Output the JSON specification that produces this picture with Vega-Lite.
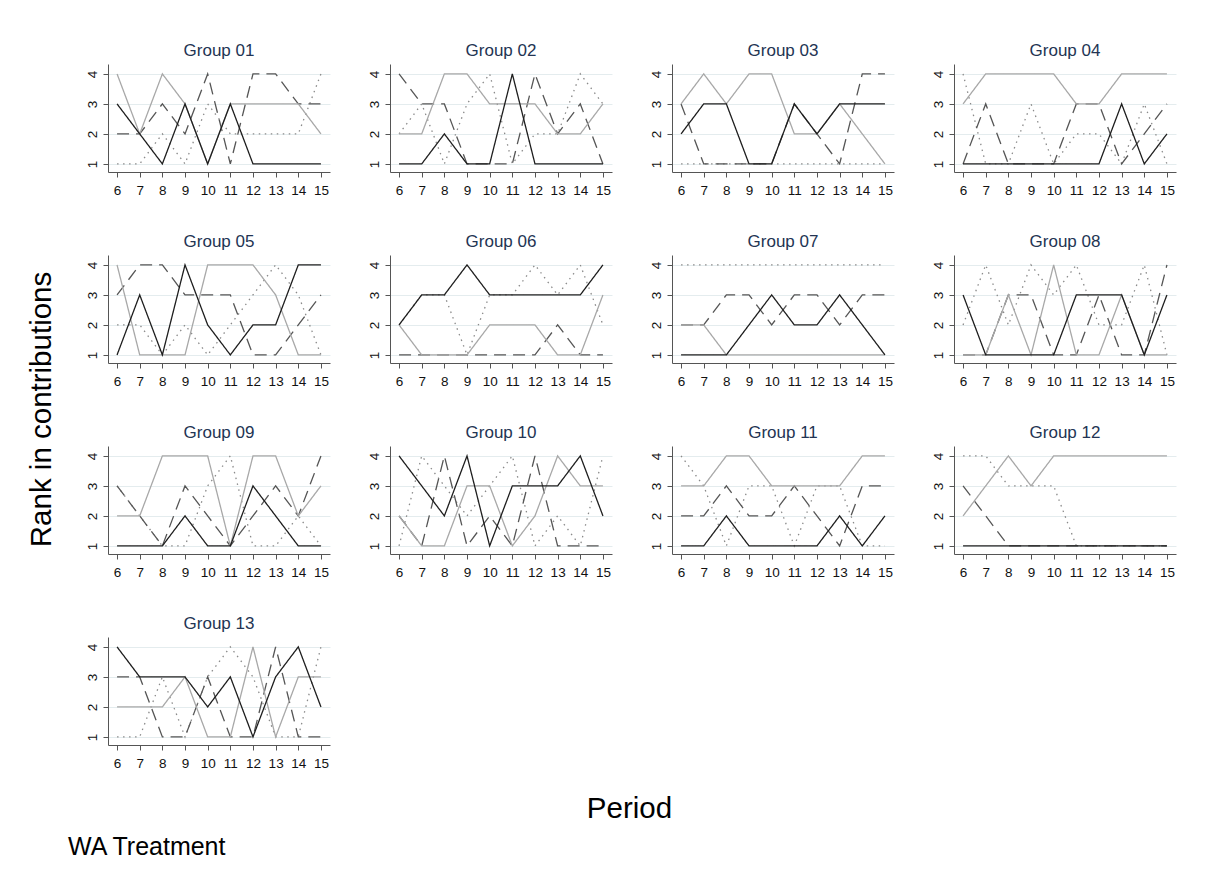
{
  "$schema": "https://vega.github.io/schema/vega-lite/v6.json",
  "background": "white",
  "padding": {"left": 26, "top": 42, "right": 10, "bottom": 20},
  "data": {
    "values": [
      {"g":"Group 01","s":"a","p":6,"r":1},{"g":"Group 01","s":"a","p":7,"r":1},{"g":"Group 01","s":"a","p":8,"r":2},{"g":"Group 01","s":"a","p":9,"r":1},{"g":"Group 01","s":"a","p":10,"r":3},{"g":"Group 01","s":"a","p":11,"r":2},{"g":"Group 01","s":"a","p":12,"r":2},{"g":"Group 01","s":"a","p":13,"r":2},{"g":"Group 01","s":"a","p":14,"r":2},{"g":"Group 01","s":"a","p":15,"r":4},
      {"g":"Group 01","s":"b","p":6,"r":2},{"g":"Group 01","s":"b","p":7,"r":2},{"g":"Group 01","s":"b","p":8,"r":3},{"g":"Group 01","s":"b","p":9,"r":2},{"g":"Group 01","s":"b","p":10,"r":4},{"g":"Group 01","s":"b","p":11,"r":1},{"g":"Group 01","s":"b","p":12,"r":4},{"g":"Group 01","s":"b","p":13,"r":4},{"g":"Group 01","s":"b","p":14,"r":3},{"g":"Group 01","s":"b","p":15,"r":3},
      {"g":"Group 01","s":"c","p":6,"r":4},{"g":"Group 01","s":"c","p":7,"r":2},{"g":"Group 01","s":"c","p":8,"r":4},{"g":"Group 01","s":"c","p":9,"r":3},{"g":"Group 01","s":"c","p":10,"r":1},{"g":"Group 01","s":"c","p":11,"r":3},{"g":"Group 01","s":"c","p":12,"r":3},{"g":"Group 01","s":"c","p":13,"r":3},{"g":"Group 01","s":"c","p":14,"r":3},{"g":"Group 01","s":"c","p":15,"r":2},
      {"g":"Group 01","s":"d","p":6,"r":3},{"g":"Group 01","s":"d","p":7,"r":2},{"g":"Group 01","s":"d","p":8,"r":1},{"g":"Group 01","s":"d","p":9,"r":3},{"g":"Group 01","s":"d","p":10,"r":1},{"g":"Group 01","s":"d","p":11,"r":3},{"g":"Group 01","s":"d","p":12,"r":1},{"g":"Group 01","s":"d","p":13,"r":1},{"g":"Group 01","s":"d","p":14,"r":1},{"g":"Group 01","s":"d","p":15,"r":1},

      {"g":"Group 02","s":"a","p":6,"r":2},{"g":"Group 02","s":"a","p":7,"r":3},{"g":"Group 02","s":"a","p":8,"r":1},{"g":"Group 02","s":"a","p":9,"r":3},{"g":"Group 02","s":"a","p":10,"r":4},{"g":"Group 02","s":"a","p":11,"r":1},{"g":"Group 02","s":"a","p":12,"r":2},{"g":"Group 02","s":"a","p":13,"r":2},{"g":"Group 02","s":"a","p":14,"r":4},{"g":"Group 02","s":"a","p":15,"r":3},
      {"g":"Group 02","s":"b","p":6,"r":4},{"g":"Group 02","s":"b","p":7,"r":3},{"g":"Group 02","s":"b","p":8,"r":3},{"g":"Group 02","s":"b","p":9,"r":1},{"g":"Group 02","s":"b","p":10,"r":1},{"g":"Group 02","s":"b","p":11,"r":1},{"g":"Group 02","s":"b","p":12,"r":4},{"g":"Group 02","s":"b","p":13,"r":2},{"g":"Group 02","s":"b","p":14,"r":3},{"g":"Group 02","s":"b","p":15,"r":1},
      {"g":"Group 02","s":"c","p":6,"r":2},{"g":"Group 02","s":"c","p":7,"r":2},{"g":"Group 02","s":"c","p":8,"r":4},{"g":"Group 02","s":"c","p":9,"r":4},{"g":"Group 02","s":"c","p":10,"r":3},{"g":"Group 02","s":"c","p":11,"r":3},{"g":"Group 02","s":"c","p":12,"r":3},{"g":"Group 02","s":"c","p":13,"r":2},{"g":"Group 02","s":"c","p":14,"r":2},{"g":"Group 02","s":"c","p":15,"r":3},
      {"g":"Group 02","s":"d","p":6,"r":1},{"g":"Group 02","s":"d","p":7,"r":1},{"g":"Group 02","s":"d","p":8,"r":2},{"g":"Group 02","s":"d","p":9,"r":1},{"g":"Group 02","s":"d","p":10,"r":1},{"g":"Group 02","s":"d","p":11,"r":4},{"g":"Group 02","s":"d","p":12,"r":1},{"g":"Group 02","s":"d","p":13,"r":1},{"g":"Group 02","s":"d","p":14,"r":1},{"g":"Group 02","s":"d","p":15,"r":1},

      {"g":"Group 03","s":"a","p":6,"r":1},{"g":"Group 03","s":"a","p":7,"r":1},{"g":"Group 03","s":"a","p":8,"r":1},{"g":"Group 03","s":"a","p":9,"r":1},{"g":"Group 03","s":"a","p":10,"r":1},{"g":"Group 03","s":"a","p":11,"r":1},{"g":"Group 03","s":"a","p":12,"r":1},{"g":"Group 03","s":"a","p":13,"r":1},{"g":"Group 03","s":"a","p":14,"r":1},{"g":"Group 03","s":"a","p":15,"r":1},
      {"g":"Group 03","s":"b","p":6,"r":3},{"g":"Group 03","s":"b","p":7,"r":1},{"g":"Group 03","s":"b","p":8,"r":1},{"g":"Group 03","s":"b","p":9,"r":1},{"g":"Group 03","s":"b","p":10,"r":1},{"g":"Group 03","s":"b","p":11,"r":3},{"g":"Group 03","s":"b","p":12,"r":2},{"g":"Group 03","s":"b","p":13,"r":1},{"g":"Group 03","s":"b","p":14,"r":4},{"g":"Group 03","s":"b","p":15,"r":4},
      {"g":"Group 03","s":"c","p":6,"r":3},{"g":"Group 03","s":"c","p":7,"r":4},{"g":"Group 03","s":"c","p":8,"r":3},{"g":"Group 03","s":"c","p":9,"r":4},{"g":"Group 03","s":"c","p":10,"r":4},{"g":"Group 03","s":"c","p":11,"r":2},{"g":"Group 03","s":"c","p":12,"r":2},{"g":"Group 03","s":"c","p":13,"r":3},{"g":"Group 03","s":"c","p":14,"r":2},{"g":"Group 03","s":"c","p":15,"r":1},
      {"g":"Group 03","s":"d","p":6,"r":2},{"g":"Group 03","s":"d","p":7,"r":3},{"g":"Group 03","s":"d","p":8,"r":3},{"g":"Group 03","s":"d","p":9,"r":1},{"g":"Group 03","s":"d","p":10,"r":1},{"g":"Group 03","s":"d","p":11,"r":3},{"g":"Group 03","s":"d","p":12,"r":2},{"g":"Group 03","s":"d","p":13,"r":3},{"g":"Group 03","s":"d","p":14,"r":3},{"g":"Group 03","s":"d","p":15,"r":3},

      {"g":"Group 04","s":"a","p":6,"r":4},{"g":"Group 04","s":"a","p":7,"r":1},{"g":"Group 04","s":"a","p":8,"r":1},{"g":"Group 04","s":"a","p":9,"r":3},{"g":"Group 04","s":"a","p":10,"r":1},{"g":"Group 04","s":"a","p":11,"r":2},{"g":"Group 04","s":"a","p":12,"r":2},{"g":"Group 04","s":"a","p":13,"r":1},{"g":"Group 04","s":"a","p":14,"r":3},{"g":"Group 04","s":"a","p":15,"r":1},
      {"g":"Group 04","s":"b","p":6,"r":1},{"g":"Group 04","s":"b","p":7,"r":3},{"g":"Group 04","s":"b","p":8,"r":1},{"g":"Group 04","s":"b","p":9,"r":1},{"g":"Group 04","s":"b","p":10,"r":1},{"g":"Group 04","s":"b","p":11,"r":3},{"g":"Group 04","s":"b","p":12,"r":3},{"g":"Group 04","s":"b","p":13,"r":1},{"g":"Group 04","s":"b","p":14,"r":2},{"g":"Group 04","s":"b","p":15,"r":3},
      {"g":"Group 04","s":"c","p":6,"r":3},{"g":"Group 04","s":"c","p":7,"r":4},{"g":"Group 04","s":"c","p":8,"r":4},{"g":"Group 04","s":"c","p":9,"r":4},{"g":"Group 04","s":"c","p":10,"r":4},{"g":"Group 04","s":"c","p":11,"r":3},{"g":"Group 04","s":"c","p":12,"r":3},{"g":"Group 04","s":"c","p":13,"r":4},{"g":"Group 04","s":"c","p":14,"r":4},{"g":"Group 04","s":"c","p":15,"r":4},
      {"g":"Group 04","s":"d","p":6,"r":1},{"g":"Group 04","s":"d","p":7,"r":1},{"g":"Group 04","s":"d","p":8,"r":1},{"g":"Group 04","s":"d","p":9,"r":1},{"g":"Group 04","s":"d","p":10,"r":1},{"g":"Group 04","s":"d","p":11,"r":1},{"g":"Group 04","s":"d","p":12,"r":1},{"g":"Group 04","s":"d","p":13,"r":3},{"g":"Group 04","s":"d","p":14,"r":1},{"g":"Group 04","s":"d","p":15,"r":2},

      {"g":"Group 05","s":"a","p":6,"r":2},{"g":"Group 05","s":"a","p":7,"r":2},{"g":"Group 05","s":"a","p":8,"r":1},{"g":"Group 05","s":"a","p":9,"r":2},{"g":"Group 05","s":"a","p":10,"r":1},{"g":"Group 05","s":"a","p":11,"r":2},{"g":"Group 05","s":"a","p":12,"r":3},{"g":"Group 05","s":"a","p":13,"r":4},{"g":"Group 05","s":"a","p":14,"r":3},{"g":"Group 05","s":"a","p":15,"r":1},
      {"g":"Group 05","s":"b","p":6,"r":3},{"g":"Group 05","s":"b","p":7,"r":4},{"g":"Group 05","s":"b","p":8,"r":4},{"g":"Group 05","s":"b","p":9,"r":3},{"g":"Group 05","s":"b","p":10,"r":3},{"g":"Group 05","s":"b","p":11,"r":3},{"g":"Group 05","s":"b","p":12,"r":1},{"g":"Group 05","s":"b","p":13,"r":1},{"g":"Group 05","s":"b","p":14,"r":2},{"g":"Group 05","s":"b","p":15,"r":3},
      {"g":"Group 05","s":"c","p":6,"r":4},{"g":"Group 05","s":"c","p":7,"r":1},{"g":"Group 05","s":"c","p":8,"r":1},{"g":"Group 05","s":"c","p":9,"r":1},{"g":"Group 05","s":"c","p":10,"r":4},{"g":"Group 05","s":"c","p":11,"r":4},{"g":"Group 05","s":"c","p":12,"r":4},{"g":"Group 05","s":"c","p":13,"r":3},{"g":"Group 05","s":"c","p":14,"r":1},{"g":"Group 05","s":"c","p":15,"r":1},
      {"g":"Group 05","s":"d","p":6,"r":1},{"g":"Group 05","s":"d","p":7,"r":3},{"g":"Group 05","s":"d","p":8,"r":1},{"g":"Group 05","s":"d","p":9,"r":4},{"g":"Group 05","s":"d","p":10,"r":2},{"g":"Group 05","s":"d","p":11,"r":1},{"g":"Group 05","s":"d","p":12,"r":2},{"g":"Group 05","s":"d","p":13,"r":2},{"g":"Group 05","s":"d","p":14,"r":4},{"g":"Group 05","s":"d","p":15,"r":4},

      {"g":"Group 06","s":"a","p":6,"r":2},{"g":"Group 06","s":"a","p":7,"r":3},{"g":"Group 06","s":"a","p":8,"r":3},{"g":"Group 06","s":"a","p":9,"r":1},{"g":"Group 06","s":"a","p":10,"r":3},{"g":"Group 06","s":"a","p":11,"r":3},{"g":"Group 06","s":"a","p":12,"r":4},{"g":"Group 06","s":"a","p":13,"r":3},{"g":"Group 06","s":"a","p":14,"r":4},{"g":"Group 06","s":"a","p":15,"r":2},
      {"g":"Group 06","s":"b","p":6,"r":1},{"g":"Group 06","s":"b","p":7,"r":1},{"g":"Group 06","s":"b","p":8,"r":1},{"g":"Group 06","s":"b","p":9,"r":1},{"g":"Group 06","s":"b","p":10,"r":1},{"g":"Group 06","s":"b","p":11,"r":1},{"g":"Group 06","s":"b","p":12,"r":1},{"g":"Group 06","s":"b","p":13,"r":2},{"g":"Group 06","s":"b","p":14,"r":1},{"g":"Group 06","s":"b","p":15,"r":1},
      {"g":"Group 06","s":"c","p":6,"r":2},{"g":"Group 06","s":"c","p":7,"r":1},{"g":"Group 06","s":"c","p":8,"r":1},{"g":"Group 06","s":"c","p":9,"r":1},{"g":"Group 06","s":"c","p":10,"r":2},{"g":"Group 06","s":"c","p":11,"r":2},{"g":"Group 06","s":"c","p":12,"r":2},{"g":"Group 06","s":"c","p":13,"r":1},{"g":"Group 06","s":"c","p":14,"r":1},{"g":"Group 06","s":"c","p":15,"r":3},
      {"g":"Group 06","s":"d","p":6,"r":2},{"g":"Group 06","s":"d","p":7,"r":3},{"g":"Group 06","s":"d","p":8,"r":3},{"g":"Group 06","s":"d","p":9,"r":4},{"g":"Group 06","s":"d","p":10,"r":3},{"g":"Group 06","s":"d","p":11,"r":3},{"g":"Group 06","s":"d","p":12,"r":3},{"g":"Group 06","s":"d","p":13,"r":3},{"g":"Group 06","s":"d","p":14,"r":3},{"g":"Group 06","s":"d","p":15,"r":4},

      {"g":"Group 07","s":"a","p":6,"r":4},{"g":"Group 07","s":"a","p":7,"r":4},{"g":"Group 07","s":"a","p":8,"r":4},{"g":"Group 07","s":"a","p":9,"r":4},{"g":"Group 07","s":"a","p":10,"r":4},{"g":"Group 07","s":"a","p":11,"r":4},{"g":"Group 07","s":"a","p":12,"r":4},{"g":"Group 07","s":"a","p":13,"r":4},{"g":"Group 07","s":"a","p":14,"r":4},{"g":"Group 07","s":"a","p":15,"r":4},
      {"g":"Group 07","s":"b","p":6,"r":2},{"g":"Group 07","s":"b","p":7,"r":2},{"g":"Group 07","s":"b","p":8,"r":3},{"g":"Group 07","s":"b","p":9,"r":3},{"g":"Group 07","s":"b","p":10,"r":2},{"g":"Group 07","s":"b","p":11,"r":3},{"g":"Group 07","s":"b","p":12,"r":3},{"g":"Group 07","s":"b","p":13,"r":2},{"g":"Group 07","s":"b","p":14,"r":3},{"g":"Group 07","s":"b","p":15,"r":3},
      {"g":"Group 07","s":"c","p":6,"r":2},{"g":"Group 07","s":"c","p":7,"r":2},{"g":"Group 07","s":"c","p":8,"r":1},{"g":"Group 07","s":"c","p":9,"r":1},{"g":"Group 07","s":"c","p":10,"r":1},{"g":"Group 07","s":"c","p":11,"r":1},{"g":"Group 07","s":"c","p":12,"r":1},{"g":"Group 07","s":"c","p":13,"r":1},{"g":"Group 07","s":"c","p":14,"r":1},{"g":"Group 07","s":"c","p":15,"r":1},
      {"g":"Group 07","s":"d","p":6,"r":1},{"g":"Group 07","s":"d","p":7,"r":1},{"g":"Group 07","s":"d","p":8,"r":1},{"g":"Group 07","s":"d","p":9,"r":2},{"g":"Group 07","s":"d","p":10,"r":3},{"g":"Group 07","s":"d","p":11,"r":2},{"g":"Group 07","s":"d","p":12,"r":2},{"g":"Group 07","s":"d","p":13,"r":3},{"g":"Group 07","s":"d","p":14,"r":2},{"g":"Group 07","s":"d","p":15,"r":1},

      {"g":"Group 08","s":"a","p":6,"r":2},{"g":"Group 08","s":"a","p":7,"r":4},{"g":"Group 08","s":"a","p":8,"r":2},{"g":"Group 08","s":"a","p":9,"r":4},{"g":"Group 08","s":"a","p":10,"r":3},{"g":"Group 08","s":"a","p":11,"r":4},{"g":"Group 08","s":"a","p":12,"r":2},{"g":"Group 08","s":"a","p":13,"r":2},{"g":"Group 08","s":"a","p":14,"r":4},{"g":"Group 08","s":"a","p":15,"r":1},
      {"g":"Group 08","s":"b","p":6,"r":1},{"g":"Group 08","s":"b","p":7,"r":1},{"g":"Group 08","s":"b","p":8,"r":3},{"g":"Group 08","s":"b","p":9,"r":3},{"g":"Group 08","s":"b","p":10,"r":1},{"g":"Group 08","s":"b","p":11,"r":1},{"g":"Group 08","s":"b","p":12,"r":3},{"g":"Group 08","s":"b","p":13,"r":1},{"g":"Group 08","s":"b","p":14,"r":1},{"g":"Group 08","s":"b","p":15,"r":4},
      {"g":"Group 08","s":"c","p":6,"r":1},{"g":"Group 08","s":"c","p":7,"r":1},{"g":"Group 08","s":"c","p":8,"r":3},{"g":"Group 08","s":"c","p":9,"r":1},{"g":"Group 08","s":"c","p":10,"r":4},{"g":"Group 08","s":"c","p":11,"r":1},{"g":"Group 08","s":"c","p":12,"r":1},{"g":"Group 08","s":"c","p":13,"r":3},{"g":"Group 08","s":"c","p":14,"r":1},{"g":"Group 08","s":"c","p":15,"r":1},
      {"g":"Group 08","s":"d","p":6,"r":3},{"g":"Group 08","s":"d","p":7,"r":1},{"g":"Group 08","s":"d","p":8,"r":1},{"g":"Group 08","s":"d","p":9,"r":1},{"g":"Group 08","s":"d","p":10,"r":1},{"g":"Group 08","s":"d","p":11,"r":3},{"g":"Group 08","s":"d","p":12,"r":3},{"g":"Group 08","s":"d","p":13,"r":3},{"g":"Group 08","s":"d","p":14,"r":1},{"g":"Group 08","s":"d","p":15,"r":3},

      {"g":"Group 09","s":"a","p":6,"r":3},{"g":"Group 09","s":"a","p":7,"r":2},{"g":"Group 09","s":"a","p":8,"r":1},{"g":"Group 09","s":"a","p":9,"r":1},{"g":"Group 09","s":"a","p":10,"r":3},{"g":"Group 09","s":"a","p":11,"r":4},{"g":"Group 09","s":"a","p":12,"r":1},{"g":"Group 09","s":"a","p":13,"r":1},{"g":"Group 09","s":"a","p":14,"r":2},{"g":"Group 09","s":"a","p":15,"r":1},
      {"g":"Group 09","s":"b","p":6,"r":3},{"g":"Group 09","s":"b","p":7,"r":2},{"g":"Group 09","s":"b","p":8,"r":1},{"g":"Group 09","s":"b","p":9,"r":3},{"g":"Group 09","s":"b","p":10,"r":2},{"g":"Group 09","s":"b","p":11,"r":1},{"g":"Group 09","s":"b","p":12,"r":2},{"g":"Group 09","s":"b","p":13,"r":3},{"g":"Group 09","s":"b","p":14,"r":2},{"g":"Group 09","s":"b","p":15,"r":4},
      {"g":"Group 09","s":"c","p":6,"r":2},{"g":"Group 09","s":"c","p":7,"r":2},{"g":"Group 09","s":"c","p":8,"r":4},{"g":"Group 09","s":"c","p":9,"r":4},{"g":"Group 09","s":"c","p":10,"r":4},{"g":"Group 09","s":"c","p":11,"r":1},{"g":"Group 09","s":"c","p":12,"r":4},{"g":"Group 09","s":"c","p":13,"r":4},{"g":"Group 09","s":"c","p":14,"r":2},{"g":"Group 09","s":"c","p":15,"r":3},
      {"g":"Group 09","s":"d","p":6,"r":1},{"g":"Group 09","s":"d","p":7,"r":1},{"g":"Group 09","s":"d","p":8,"r":1},{"g":"Group 09","s":"d","p":9,"r":2},{"g":"Group 09","s":"d","p":10,"r":1},{"g":"Group 09","s":"d","p":11,"r":1},{"g":"Group 09","s":"d","p":12,"r":3},{"g":"Group 09","s":"d","p":13,"r":2},{"g":"Group 09","s":"d","p":14,"r":1},{"g":"Group 09","s":"d","p":15,"r":1},

      {"g":"Group 10","s":"a","p":6,"r":1},{"g":"Group 10","s":"a","p":7,"r":4},{"g":"Group 10","s":"a","p":8,"r":3},{"g":"Group 10","s":"a","p":9,"r":2},{"g":"Group 10","s":"a","p":10,"r":3},{"g":"Group 10","s":"a","p":11,"r":4},{"g":"Group 10","s":"a","p":12,"r":1},{"g":"Group 10","s":"a","p":13,"r":2},{"g":"Group 10","s":"a","p":14,"r":1},{"g":"Group 10","s":"a","p":15,"r":4},
      {"g":"Group 10","s":"b","p":6,"r":2},{"g":"Group 10","s":"b","p":7,"r":1},{"g":"Group 10","s":"b","p":8,"r":4},{"g":"Group 10","s":"b","p":9,"r":1},{"g":"Group 10","s":"b","p":10,"r":2},{"g":"Group 10","s":"b","p":11,"r":1},{"g":"Group 10","s":"b","p":12,"r":4},{"g":"Group 10","s":"b","p":13,"r":1},{"g":"Group 10","s":"b","p":14,"r":1},{"g":"Group 10","s":"b","p":15,"r":1},
      {"g":"Group 10","s":"c","p":6,"r":2},{"g":"Group 10","s":"c","p":7,"r":1},{"g":"Group 10","s":"c","p":8,"r":1},{"g":"Group 10","s":"c","p":9,"r":3},{"g":"Group 10","s":"c","p":10,"r":3},{"g":"Group 10","s":"c","p":11,"r":1},{"g":"Group 10","s":"c","p":12,"r":2},{"g":"Group 10","s":"c","p":13,"r":4},{"g":"Group 10","s":"c","p":14,"r":3},{"g":"Group 10","s":"c","p":15,"r":3},
      {"g":"Group 10","s":"d","p":6,"r":4},{"g":"Group 10","s":"d","p":7,"r":3},{"g":"Group 10","s":"d","p":8,"r":2},{"g":"Group 10","s":"d","p":9,"r":4},{"g":"Group 10","s":"d","p":10,"r":1},{"g":"Group 10","s":"d","p":11,"r":3},{"g":"Group 10","s":"d","p":12,"r":3},{"g":"Group 10","s":"d","p":13,"r":3},{"g":"Group 10","s":"d","p":14,"r":4},{"g":"Group 10","s":"d","p":15,"r":2},

      {"g":"Group 11","s":"a","p":6,"r":4},{"g":"Group 11","s":"a","p":7,"r":3},{"g":"Group 11","s":"a","p":8,"r":1},{"g":"Group 11","s":"a","p":9,"r":3},{"g":"Group 11","s":"a","p":10,"r":3},{"g":"Group 11","s":"a","p":11,"r":1},{"g":"Group 11","s":"a","p":12,"r":3},{"g":"Group 11","s":"a","p":13,"r":3},{"g":"Group 11","s":"a","p":14,"r":1},{"g":"Group 11","s":"a","p":15,"r":1},
      {"g":"Group 11","s":"b","p":6,"r":2},{"g":"Group 11","s":"b","p":7,"r":2},{"g":"Group 11","s":"b","p":8,"r":3},{"g":"Group 11","s":"b","p":9,"r":2},{"g":"Group 11","s":"b","p":10,"r":2},{"g":"Group 11","s":"b","p":11,"r":3},{"g":"Group 11","s":"b","p":12,"r":2},{"g":"Group 11","s":"b","p":13,"r":1},{"g":"Group 11","s":"b","p":14,"r":3},{"g":"Group 11","s":"b","p":15,"r":3},
      {"g":"Group 11","s":"c","p":6,"r":3},{"g":"Group 11","s":"c","p":7,"r":3},{"g":"Group 11","s":"c","p":8,"r":4},{"g":"Group 11","s":"c","p":9,"r":4},{"g":"Group 11","s":"c","p":10,"r":3},{"g":"Group 11","s":"c","p":11,"r":3},{"g":"Group 11","s":"c","p":12,"r":3},{"g":"Group 11","s":"c","p":13,"r":3},{"g":"Group 11","s":"c","p":14,"r":4},{"g":"Group 11","s":"c","p":15,"r":4},
      {"g":"Group 11","s":"d","p":6,"r":1},{"g":"Group 11","s":"d","p":7,"r":1},{"g":"Group 11","s":"d","p":8,"r":2},{"g":"Group 11","s":"d","p":9,"r":1},{"g":"Group 11","s":"d","p":10,"r":1},{"g":"Group 11","s":"d","p":11,"r":1},{"g":"Group 11","s":"d","p":12,"r":1},{"g":"Group 11","s":"d","p":13,"r":2},{"g":"Group 11","s":"d","p":14,"r":1},{"g":"Group 11","s":"d","p":15,"r":2},

      {"g":"Group 12","s":"a","p":6,"r":4},{"g":"Group 12","s":"a","p":7,"r":4},{"g":"Group 12","s":"a","p":8,"r":3},{"g":"Group 12","s":"a","p":9,"r":3},{"g":"Group 12","s":"a","p":10,"r":3},{"g":"Group 12","s":"a","p":11,"r":1},{"g":"Group 12","s":"a","p":12,"r":1},{"g":"Group 12","s":"a","p":13,"r":1},{"g":"Group 12","s":"a","p":14,"r":1},{"g":"Group 12","s":"a","p":15,"r":1},
      {"g":"Group 12","s":"b","p":6,"r":3},{"g":"Group 12","s":"b","p":7,"r":2},{"g":"Group 12","s":"b","p":8,"r":1},{"g":"Group 12","s":"b","p":9,"r":1},{"g":"Group 12","s":"b","p":10,"r":1},{"g":"Group 12","s":"b","p":11,"r":1},{"g":"Group 12","s":"b","p":12,"r":1},{"g":"Group 12","s":"b","p":13,"r":1},{"g":"Group 12","s":"b","p":14,"r":1},{"g":"Group 12","s":"b","p":15,"r":1},
      {"g":"Group 12","s":"c","p":6,"r":2},{"g":"Group 12","s":"c","p":7,"r":3},{"g":"Group 12","s":"c","p":8,"r":4},{"g":"Group 12","s":"c","p":9,"r":3},{"g":"Group 12","s":"c","p":10,"r":4},{"g":"Group 12","s":"c","p":11,"r":4},{"g":"Group 12","s":"c","p":12,"r":4},{"g":"Group 12","s":"c","p":13,"r":4},{"g":"Group 12","s":"c","p":14,"r":4},{"g":"Group 12","s":"c","p":15,"r":4},
      {"g":"Group 12","s":"d","p":6,"r":1},{"g":"Group 12","s":"d","p":7,"r":1},{"g":"Group 12","s":"d","p":8,"r":1},{"g":"Group 12","s":"d","p":9,"r":1},{"g":"Group 12","s":"d","p":10,"r":1},{"g":"Group 12","s":"d","p":11,"r":1},{"g":"Group 12","s":"d","p":12,"r":1},{"g":"Group 12","s":"d","p":13,"r":1},{"g":"Group 12","s":"d","p":14,"r":1},{"g":"Group 12","s":"d","p":15,"r":1},

      {"g":"Group 13","s":"a","p":6,"r":1},{"g":"Group 13","s":"a","p":7,"r":1},{"g":"Group 13","s":"a","p":8,"r":3},{"g":"Group 13","s":"a","p":9,"r":1},{"g":"Group 13","s":"a","p":10,"r":3},{"g":"Group 13","s":"a","p":11,"r":4},{"g":"Group 13","s":"a","p":12,"r":3},{"g":"Group 13","s":"a","p":13,"r":1},{"g":"Group 13","s":"a","p":14,"r":1},{"g":"Group 13","s":"a","p":15,"r":4},
      {"g":"Group 13","s":"b","p":6,"r":3},{"g":"Group 13","s":"b","p":7,"r":3},{"g":"Group 13","s":"b","p":8,"r":1},{"g":"Group 13","s":"b","p":9,"r":1},{"g":"Group 13","s":"b","p":10,"r":3},{"g":"Group 13","s":"b","p":11,"r":1},{"g":"Group 13","s":"b","p":12,"r":1},{"g":"Group 13","s":"b","p":13,"r":4},{"g":"Group 13","s":"b","p":14,"r":1},{"g":"Group 13","s":"b","p":15,"r":1},
      {"g":"Group 13","s":"c","p":6,"r":2},{"g":"Group 13","s":"c","p":7,"r":2},{"g":"Group 13","s":"c","p":8,"r":2},{"g":"Group 13","s":"c","p":9,"r":3},{"g":"Group 13","s":"c","p":10,"r":1},{"g":"Group 13","s":"c","p":11,"r":1},{"g":"Group 13","s":"c","p":12,"r":4},{"g":"Group 13","s":"c","p":13,"r":1},{"g":"Group 13","s":"c","p":14,"r":3},{"g":"Group 13","s":"c","p":15,"r":3},
      {"g":"Group 13","s":"d","p":6,"r":4},{"g":"Group 13","s":"d","p":7,"r":3},{"g":"Group 13","s":"d","p":8,"r":3},{"g":"Group 13","s":"d","p":9,"r":3},{"g":"Group 13","s":"d","p":10,"r":2},{"g":"Group 13","s":"d","p":11,"r":3},{"g":"Group 13","s":"d","p":12,"r":1},{"g":"Group 13","s":"d","p":13,"r":3},{"g":"Group 13","s":"d","p":14,"r":4},{"g":"Group 13","s":"d","p":15,"r":2}
    ]
  },
  "title": {
    "text": "WA Treatment",
    "orient": "bottom",
    "anchor": "start",
    "fontSize": 25,
    "fontWeight": "normal",
    "font": "Liberation Sans",
    "color": "#000000",
    "dx": 42,
    "offset": 12
  },
  "spacing": 28,
  "hconcat": [
    {
      "width": 1,
      "height": 690,
      "mark": {"type": "rule", "opacity": 0},
      "encoding": {
        "y": {
          "field": "r",
          "type": "quantitative",
          "axis": {
            "title": "Rank in contributions",
            "labels": false,
            "ticks": false,
            "domain": false,
            "grid": false,
            "titleFontSize": 29.5,
            "titlePadding": 0
          }
        }
      }
    },
    {
      "spacing": 23,
      "vconcat": [
        {
          "facet": {
            "field": "g",
            "type": "nominal",
            "header": {
              "title": null,
              "labelFont": "Liberation Sans",
              "labelFontSize": 17,
              "labelColor": "#233453",
              "labelPadding": 4
            }
          },
          "columns": 4,
          "spacing": {"row": 36, "column": 37},
          "resolve": {"axis": {"x": "independent", "y": "independent"}},
          "spec": {
            "width": 222,
            "height": 108,
            "mark": {"type": "line", "strokeWidth": 1.3},
            "encoding": {
              "x": {
                "field": "p",
                "type": "quantitative",
                "scale": {"domain": [5.6, 15.4], "nice": false, "zero": false},
                "axis": {"values": [6, 7, 8, 9, 10, 11, 12, 13, 14, 15], "title": null, "grid": false}
              },
              "y": {
                "field": "r",
                "type": "quantitative",
                "scale": {"domain": [0.73, 4.33], "nice": false, "zero": false},
                "axis": {"values": [1, 2, 3, 4], "title": null, "labelAngle": 270, "grid": true}
              },
              "color": {
                "field": "s",
                "type": "nominal",
                "scale": {"domain": ["a", "b", "c", "d"], "range": ["#8a8a8a", "#555555", "#a8a8a8", "#1e1e1e"]},
                "legend": null
              },
              "strokeDash": {
                "field": "s",
                "type": "nominal",
                "scale": {"domain": ["a", "b", "c", "d"], "range": [[1.5, 4.5], [12, 7], [1, 0], [1, 0]]},
                "legend": null
              }
            }
          }
        },
        {
          "width": 1042,
          "height": 1,
          "mark": {"type": "rule", "opacity": 0},
          "encoding": {
            "x": {
              "field": "p",
              "type": "quantitative",
              "axis": {
                "title": "Period",
                "labels": false,
                "ticks": false,
                "domain": false,
                "grid": false,
                "titleFontSize": 29.5,
                "titlePadding": 0
              }
            }
          }
        }
      ]
    }
  ],
  "config": {
    "font": "Liberation Sans",
    "view": {"stroke": null},
    "axis": {
      "labelFont": "Liberation Sans",
      "labelFontSize": 13.5,
      "labelColor": "#111111",
      "domainColor": "#555555",
      "tickColor": "#555555",
      "tickSize": 5,
      "labelPadding": 4,
      "gridColor": "#e4ecee",
      "titleFont": "Liberation Sans",
      "titleFontWeight": "normal",
      "titleColor": "#000000"
    },
    "axisX": {"labelFlush": false, "labelPadding": 6}
  }
}
